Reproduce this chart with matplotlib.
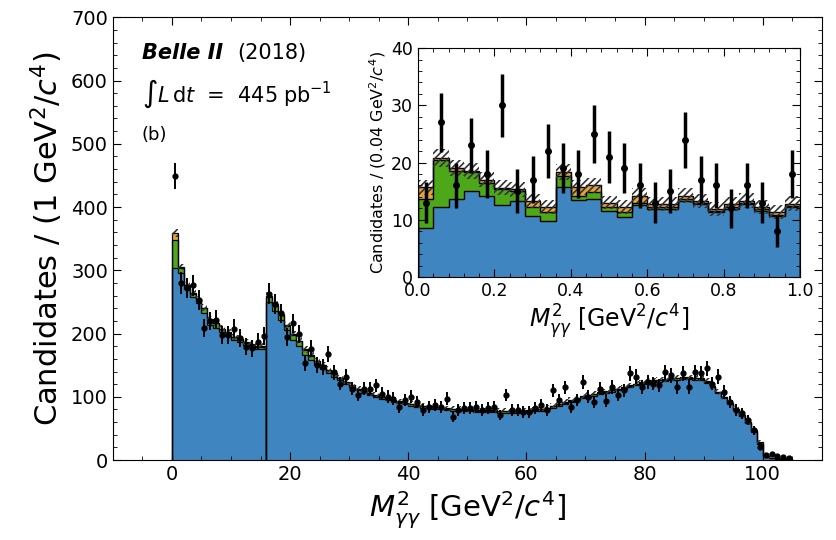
import numpy as np
import matplotlib.pyplot as plt
from matplotlib.ticker import MultipleLocator

plt.rcParams['font.family'] = 'DejaVu Sans'
plt.rcParams['hatch.linewidth'] = 1.2

# main plot: 1 GeV^2/c^4 bins, 0..105
main_data = [449, 280, 272, 276, 253, 209, 220, 222, 198, 198, 208, 193, 179, 177, 187,
             196, 263, 247, 232, 195, 216, 200, 153, 176, 150, 147, 168, 139, 121, 132,
             113, 103, 113, 113, 118, 105, 100, 97, 84, 95, 100, 92, 79, 84, 87,
             84, 97, 68, 79, 82, 82, 84, 79, 82, 84, 71, 103, 79, 79, 76,
             76, 82, 87, 79, 110, 95, 115, 84, 95, 124, 100, 92, 113, 94, 116,
             103, 110, 137, 132, 116, 124, 121, 118, 139, 134, 116, 137, 116, 139, 137,
             145, 121, 132, 108, 92, 79, 74, 63, 47, 21, 8, 10, 6, 5, 4]
main_blue = [303, 295, 270, 258, 248, 232, 214, 209, 202, 196, 190, 187, 182, 179, 176,
             176, 250, 236, 222, 205, 190, 180, 166, 158, 150, 144, 138, 132, 126, 120,
             115, 110, 106, 103, 100, 97, 95, 92, 90, 88, 86, 84, 83, 82, 81,
             80, 79, 78, 78, 77, 77, 76, 76, 76, 76, 75, 75, 75, 75, 75,
             76, 77, 78, 80, 83, 86, 89, 92, 95, 98, 100, 102, 104, 106, 108,
             110, 112, 115, 118, 120, 122, 123, 124, 125, 126, 127, 128, 128, 127, 126,
             122, 115, 106, 98, 89, 79, 69, 58, 45, 26, 5, 3, 2, 2, 1]
main_green = [45, 8, 6, 5, 5, 8, 8, 7, 5, 5, 4, 4, 3, 3, 3,
              3, 8, 8, 7, 7, 8, 8, 8, 7, 6, 5, 4, 4, 3, 3,
              3, 2, 2, 2, 2, 2, 2, 2, 2, 2, 2, 2, 2, 2, 2,
              2, 2, 2, 2, 2, 2, 2, 2, 2, 2, 2, 2, 2, 2, 2,
              2, 2, 2, 2, 2, 2, 2, 2, 2, 2, 2, 2, 2, 2, 2,
              2, 2, 2, 2, 2, 2, 2, 2, 2, 2, 2, 2, 2, 2, 2,
              2, 1, 1, 1, 1, 1, 1, 1, 1, 1, 1, 1, 1, 1, 1]
main_orange = [11, 2, 1, 1, 1, 1, 1, 1, 1, 1, 1, 1, 1, 1, 1,
               1, 2, 2, 2, 1, 1, 1, 1, 1, 1, 1, 1, 1, 1, 1,
               1, 1, 1, 1, 1, 1, 1, 1, 1, 1, 1, 1, 1, 1, 1,
               1, 1, 1, 1, 1, 1, 1, 1, 1, 1, 1, 1, 1, 1, 1,
               1, 1, 1, 1, 1, 1, 1, 1, 1, 1, 1, 1, 1, 1, 1,
               1, 1, 1, 1, 1, 1, 1, 1, 1, 1, 1, 1, 1, 1, 1,
               1, 1, 1, 1, 1, 1, 1, 1, 1, 1, 0, 0, 0, 0, 0]
main_unc = [6, 5, 5, 5, 5, 5, 5, 5, 5, 5, 5, 5, 5, 5, 5,
            5, 5, 5, 5, 5, 5, 5, 5, 5, 5, 5, 5, 5, 5, 5,
            4, 4, 4, 4, 4, 4, 4, 4, 4, 4, 4, 4, 4, 4, 4,
            4, 4, 4, 4, 4, 4, 4, 4, 4, 4, 4, 4, 4, 4, 4,
            4, 4, 4, 4, 4, 4, 4, 4, 4, 4, 4, 4, 4, 4, 4,
            4, 4, 4, 4, 4, 4, 4, 4, 4, 4, 4, 4, 4, 4, 4,
            4, 4, 4, 4, 4, 4, 4, 4, 4, 3, 1, 1, 1, 1, 1]
main_split = 16  # binning restarts at 16 GeV^2/c^4

# inset: 0.04 GeV^2/c^4 bins, 0..1
inset_data = [13, 27, 16, 23, 18, 30, 15, 17, 22, 19, 18, 25, 21, 19, 16,
              13, 15, 24, 17, 16, 12, 16, 13, 8, 18]
inset_blue = [8.6, 12.2, 13.6, 15.0, 14.2, 12.6, 13.3, 10.7, 9.7, 15.7, 13.4, 13.6, 11.6,
              10.4, 12.5, 11.9, 11.9, 13.3, 12.8, 11.3, 11.9, 12.8, 11.6, 10.7, 12.2]
inset_green = [5.0, 8.3, 4.9, 3.3, 2.3, 2.8, 1.8, 1.5, 1.6, 1.9, 0.8, 1.2, 0.6,
               0.9, 0.5, 0.3, 0.3, 0.3, 0.2, 0.2, 0.3, 0.2, 0.2, 0.2, 0.2]
inset_orange = [2.1, 0.3, 0.5, 0.2, 0.5, 0.2, 0.2, 1.1, 0.9, 0.7, 1.5, 1.2, 0.8,
                0.9, 1.2, 0.6, 0.6, 0.6, 0.3, 0.4, 0.6, 0.3, 0.4, 0.4, 0.4]
inset_unc = [1.3, 1.5, 1.4, 1.4, 1.3, 1.3, 1.3, 1.2, 1.2, 1.4, 1.3, 1.3, 1.2,
             1.2, 1.3, 1.2, 1.2, 1.3, 1.2, 1.2, 1.2, 1.3, 1.2, 1.2, 1.3]

colors = ['#3f86c1', '#4ca818', '#e8a23b']


def draw_stack(ax, edges, layers, unc, pieces, lw):
    tops = np.cumsum(np.array(layers, dtype=float), axis=0)
    unc = np.array(unc, dtype=float)
    for a, b in pieces:
        e = edges[a:b + 1]
        base = np.zeros(b - a)
        for top, col in zip(tops, colors):
            ax.stairs(top[a:b], e, baseline=base, fill=True, color=col, lw=0)
            base = top[a:b]
        for top in tops:
            ax.stairs(top[a:b], e, baseline=0, color='k', lw=lw)
        total = tops[-1][a:b]
        ax.stairs(total + unc[a:b], e, baseline=total - unc[a:b], fill=True,
                  facecolor='none', edgecolor='#333333', hatch='/////', lw=0)


def style_ticks(ax, size):
    ax.tick_params(which='both', direction='in', top=True, right=True, labelsize=size)
    ax.tick_params(which='major', length=6)
    ax.tick_params(which='minor', length=3)


fig = plt.figure(figsize=(8.36, 5.4), dpi=100)
ax = fig.add_axes([0.135, 0.148, 0.848, 0.82])

n = len(main_data)
edges = np.arange(n + 1, dtype=float)
centers = edges[:-1] + 0.5
draw_stack(ax, edges, [main_blue, main_green, main_orange], main_unc,
           [(0, main_split), (main_split, n)], 0.9)
d = np.array(main_data, dtype=float)
ax.errorbar(centers, d, yerr=np.sqrt(d), fmt='o', color='k', ms=3.5,
            elinewidth=1.4, capsize=0, zorder=5)

ax.set_xlim(-10, 110)
ax.set_ylim(0, 700)
ax.xaxis.set_major_locator(MultipleLocator(20))
ax.xaxis.set_minor_locator(MultipleLocator(5))
ax.yaxis.set_major_locator(MultipleLocator(100))
ax.yaxis.set_minor_locator(MultipleLocator(20))
style_ticks(ax, 14)
ax.set_xlabel(r'$M_{\gamma\gamma}^{2}$ [GeV$^2$/$c^4$]', fontsize=21)
ax.set_ylabel(r'Candidates / (1 GeV$^2$/$c^4$)', fontsize=22)

ax.text(0.041, 0.92, 'Belle II', transform=ax.transAxes, fontsize=15,
        fontweight='bold', fontstyle='italic', va='center')
ax.text(0.176, 0.92, '(2018)', transform=ax.transAxes, fontsize=15, va='center')
ax.text(0.041, 0.828, r'$\int L\,\mathrm{d}t\;\,=\;\,445\;\mathrm{pb}^{-1}$',
        transform=ax.transAxes, fontsize=15, va='center')
ax.text(0.041, 0.735, '(b)', transform=ax.transAxes, fontsize=13, va='center')

# inset
axi = fig.add_axes([0.5, 0.487, 0.457, 0.424])
ni = len(inset_data)
iedges = np.linspace(0, 1, ni + 1)
icenters = 0.5 * (iedges[:-1] + iedges[1:])
draw_stack(axi, iedges, [inset_blue, inset_green, inset_orange], inset_unc,
           [(0, ni)], 1.0)
di = np.array(inset_data, dtype=float)
axi.errorbar(icenters, di, yerr=np.sqrt(di), fmt='o', color='k', ms=4,
             elinewidth=2.5, capsize=0, zorder=5)
axi.set_xlim(0, 1)
axi.set_ylim(0, 40)
axi.xaxis.set_major_locator(MultipleLocator(0.2))
axi.xaxis.set_minor_locator(MultipleLocator(0.04))
axi.yaxis.set_major_locator(MultipleLocator(10))
axi.yaxis.set_minor_locator(MultipleLocator(2))
style_ticks(axi, 12.5)
axi.set_xlabel(r'$M_{\gamma\gamma}^{2}$ [GeV$^2$/$c^4$]', fontsize=17, labelpad=2)
axi.set_ylabel(r'Candidates / (0.04 GeV$^2$/$c^4$)', fontsize=11.5, labelpad=2)

fig.savefig('out.png', dpi=100)
